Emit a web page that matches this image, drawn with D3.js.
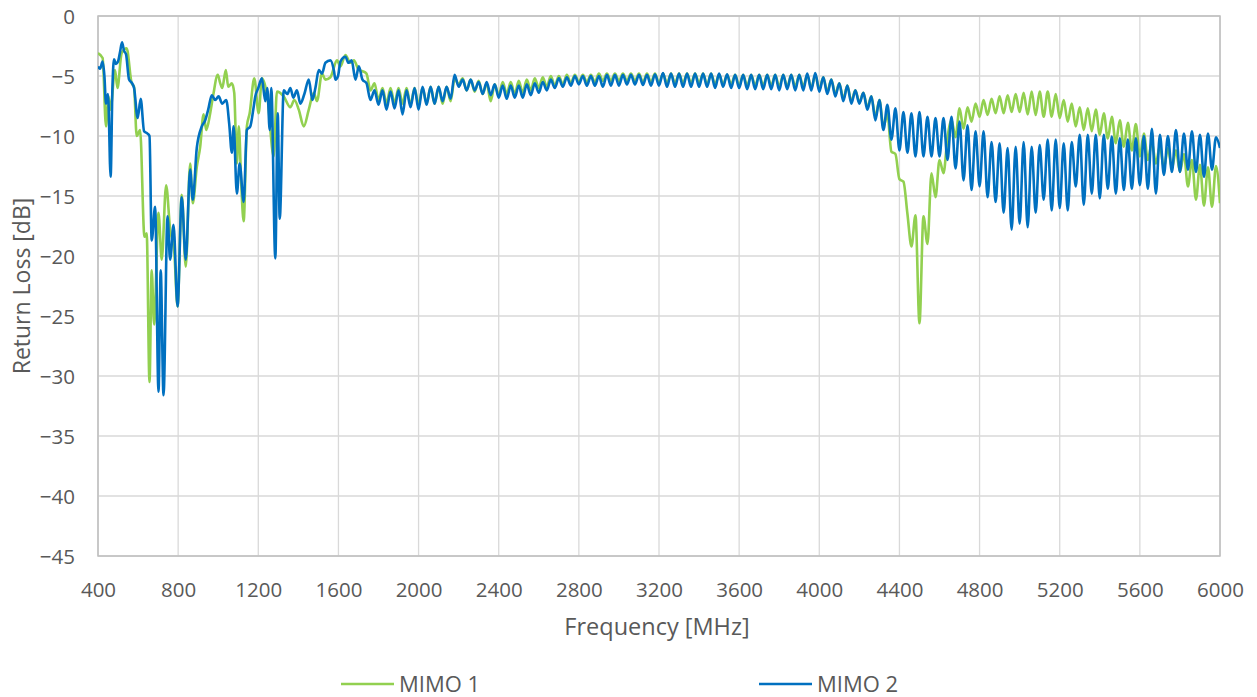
<!DOCTYPE html>
<html><head><meta charset="utf-8">
<script src="https://cdn.jsdelivr.net/npm/d3@7"></script>
<style>body{margin:0;background:#fff;} svg{display:block;font-family:"Open Sans",sans-serif;}</style>
</head><body><svg id="c" width="1257" height="697"></svg>
<script>
const xTicks = [400,800,1200,1600,2000,2400,2800,3200,3600,4000,4400,4800,5200,5600,6000];
const yTicks = [0,-5,-10,-15,-20,-25,-30,-35,-40,-45];
const seriesNames = ["MIMO 1","MIMO 2"];
const seriesColors = ["#92D050","#0070C0"];
const xTitle = "Frequency [MHz]";
const yTitle = "Return Loss [dB]";

// Low band (irregular) : [MHz, dB]
const mimo1Low = [[400,-3.1],[423,-3.5],[440,-9.2],[452,-6.7],[462,-7.8],[485,-4.5],[497,-6.0],[518,-3.1],[543,-2.7],[568,-5.6],[580,-5.9],[593,-10.0],[610,-9.5],[632,-18.4],[643,-18.1],[657,-30.5],[668,-21.2],[680,-25.7],[702,-16.4],[718,-20.3],[740,-14.1],[760,-17.8],[780,-19.5],[797,-24.2],[818,-14.9],[838,-20.9],[860,-12.3],[873,-15.6],[893,-12.6],[910,-10.9],[927,-8.2],[940,-9.5],[960,-8.1],[975,-6.6],[998,-4.9],[1010,-5.6],[1020,-6.0],[1038,-4.5],[1050,-5.9],[1068,-5.6],[1080,-6.4],[1093,-12.3],[1103,-9.2],[1115,-14.0],[1127,-17.1],[1143,-9.2],[1157,-8.1],[1180,-5.2],[1202,-8.1],[1218,-5.2],[1245,-6.7],[1277,-11.7],[1293,-6.3],[1327,-6.7],[1360,-7.6],[1380,-7.0],[1402,-7.8],[1427,-9.2],[1452,-7.8],[1477,-6.4],[1493,-7.1],[1518,-4.8],[1535,-5.3],[1560,-5.1],[1593,-3.7],[1610,-4.2],[1635,-3.25],[1660,-3.9],[1677,-3.7],[1702,-4.5]];
const mimo2Low = [[400,-4.2],[410,-4.4],[423,-3.8],[432,-5.0],[440,-7.3],[450,-6.5],[463,-13.4],[472,-6.0],[480,-3.6],[490,-4.0],[500,-3.8],[510,-3.0],[520,-2.2],[530,-2.9],[540,-3.2],[555,-5.3],[570,-5.6],[580,-6.0],[598,-8.5],[613,-6.9],[630,-9.6],[647,-9.8],[657,-10.0],[668,-18.7],[685,-15.9],[702,-31.3],[713,-21.2],[727,-31.6],[747,-16.7],[760,-20.3],[777,-17.4],[797,-24.2],[818,-15.1],[838,-20.3],[860,-12.8],[873,-15.3],[893,-11.0],[918,-9.2],[935,-8.7],[950,-7.8],[968,-6.6],[985,-7.0],[1002,-6.7],[1020,-7.3],[1040,-7.0],[1055,-9.0],[1068,-11.4],[1077,-9.2],[1093,-14.8],[1107,-12.3],[1127,-15.5],[1143,-9.5],[1160,-9.2],[1175,-7.8],[1185,-6.7],[1200,-6.0],[1218,-5.2],[1235,-7.1],[1245,-6.0],[1257,-9.5],[1265,-6.0],[1285,-20.2],[1297,-8.1],[1307,-16.9],[1327,-6.2],[1345,-6.5],[1360,-6.0],[1375,-6.8],[1393,-6.2],[1410,-7.3],[1430,-6.5],[1452,-5.3],[1470,-7.0],[1485,-6.0],[1502,-4.5],[1518,-4.8],[1535,-3.9],[1560,-3.7],[1578,-4.6],[1585,-5.3],[1598,-5.0],[1610,-3.8],[1635,-3.4],[1650,-3.9],[1666,-3.7],[1685,-5.3],[1702,-4.2]];

// Ripple band: samples every 20 MHz from 1720 to 6000 MHz
const rippleFreqs = d3.range(1720, 6001, 20);
const mimo1Ripple = [
-4.6,-4.8,-6.2,-5.6,-7.0,-6.0,-7.3,-6.0,-7.3,-6.0,
-7.3,-6.0,-7.4,-6.0,-7.4,-6.0,-7.3,-5.9,-7.3,-5.9,
-7.3,-5.9,-7.1,-5.2,-5.7,-5.2,-6.2,-5.3,-6.3,-5.4,
-6.5,-5.6,-7.1,-5.7,-6.6,-5.5,-6.5,-5.5,-6.5,-5.4,
-6.4,-5.3,-6.2,-5.2,-6.0,-5.1,-5.9,-5.0,-5.8,-5.0,
-5.7,-4.9,-5.6,-4.9,-5.5,-4.9,-5.5,-4.9,-5.5,-4.8,
-5.4,-4.8,-5.4,-4.8,-5.4,-4.8,-5.4,-4.8,-5.4,-4.8,
-5.5,-4.8,-5.5,-4.8,-5.6,-4.8,-5.6,-4.8,-5.6,-4.8,
-5.6,-4.8,-5.6,-4.8,-5.6,-4.8,-5.7,-4.8,-5.7,-4.85,
-5.7,-4.9,-5.7,-4.9,-5.8,-4.9,-5.8,-4.9,-5.8,-4.9,
-5.8,-4.9,-5.8,-4.9,-5.9,-4.9,-5.9,-4.9,-5.9,-4.9,
-5.9,-4.9,-6.0,-4.9,-6.1,-5.1,-6.3,-5.3,-6.5,-5.6,
-6.9,-5.8,-7.1,-6.2,-7.2,-6.4,-7.6,-6.7,-8.4,-7.0,
-9.2,-8.2,-11.3,-11.5,-13.6,-13.8,-16.5,-19.2,-16.6,-25.6,
-16.7,-19.0,-13.1,-15.1,-12.0,-13.1,-10.1,-8.7,-10.1,-7.7,
-9.4,-7.6,-8.8,-7.3,-8.4,-7.0,-8.25,-6.9,-8.1,-6.7,
-8.1,-6.6,-8.0,-6.5,-8.0,-6.4,-8.2,-6.3,-8.25,-6.3,
-8.4,-6.3,-8.4,-6.5,-8.5,-7.0,-8.8,-7.3,-9.2,-7.6,
-9.5,-7.7,-9.6,-7.8,-9.9,-8.1,-10.2,-8.4,-10.6,-8.7,
-10.9,-8.9,-11.2,-9.0,-11.7,-9.8,-12.0,-10.5,-12.3,-10.8,
-12.7,-11.0,-12.7,-11.2,-13.0,-11.5,-14.2,-12.0,-15.3,-12.4,
-15.8,-12.6,-15.9,-12.5,-15.6];
const mimo2Ripple = [
-5.3,-5.6,-7.0,-6.2,-7.4,-6.2,-7.8,-6.3,-7.7,-6.2,
-8.2,-6.2,-7.6,-6.0,-7.8,-5.9,-7.4,-5.9,-7.3,-5.9,
-7.1,-5.9,-6.9,-4.9,-5.9,-5.3,-6.2,-5.3,-6.2,-5.5,
-6.5,-5.5,-6.6,-5.7,-6.8,-5.8,-6.9,-5.8,-6.8,-5.8,
-6.8,-5.7,-6.6,-5.6,-6.4,-5.5,-6.2,-5.3,-6.0,-5.2,
-5.9,-5.1,-5.8,-5.0,-5.7,-5.0,-5.8,-5.0,-5.8,-5.0,
-5.9,-4.9,-5.8,-4.9,-5.8,-4.9,-5.7,-4.9,-5.7,-4.9,
-5.75,-4.9,-5.8,-4.85,-5.8,-4.75,-5.9,-4.8,-5.9,-4.8,
-5.9,-4.8,-5.9,-4.8,-5.9,-4.8,-5.9,-4.8,-6.0,-4.8,
-5.9,-4.85,-6.0,-4.9,-6.0,-4.9,-6.1,-4.9,-6.1,-4.9,
-6.1,-4.9,-6.1,-4.9,-6.2,-4.9,-6.1,-4.9,-6.2,-4.9,
-6.2,-4.8,-6.2,-4.75,-6.3,-5.1,-6.5,-5.3,-6.7,-5.6,
-7.1,-5.8,-7.3,-6.2,-7.3,-6.4,-7.8,-6.7,-8.7,-7.0,
-9.5,-7.4,-10.3,-7.7,-11.2,-8.0,-11.4,-8.1,-11.7,-8.0,
-11.7,-8.4,-11.7,-8.5,-11.7,-8.5,-12.0,-8.4,-12.7,-8.8,
-13.7,-9.1,-14.5,-9.6,-14.2,-9.6,-15.1,-10.5,-15.5,-10.6,
-16.4,-11.0,-17.8,-10.9,-17.3,-10.5,-17.6,-10.9,-16.4,-10.75,
-15.3,-10.3,-16.2,-10.3,-16.0,-10.6,-16.2,-10.5,-14.2,-9.9,
-15.75,-9.9,-14.8,-9.9,-15.2,-9.9,-14.4,-10.05,-14.8,-10.2,
-14.5,-10.3,-14.4,-10.2,-14.1,-10.0,-14.4,-9.4,-14.8,-9.9,
-13.25,-10.0,-13.0,-9.5,-13.0,-9.8,-12.8,-9.6,-13.0,-9.9,
-13.4,-9.8,-12.8,-10.1,-11.0];

const svg = d3.select("#c");
const pL = 98, pR = 1220, pT = 16, pB = 556;
const x = d3.scaleLinear().domain([400, 6000]).range([pL, pR]);
const y = d3.scaleLinear().domain([-45, 0]).range([pB, pT]);
const textCol = "#595959", gridCol = "#D9D9D9", borderCol = "#BFBFBF";

// grid
const g = svg.append("g");
g.selectAll("line.v").data(xTicks).join("line")
  .attr("x1", d => x(d)).attr("x2", d => x(d)).attr("y1", pT).attr("y2", pB)
  .attr("stroke", gridCol).attr("stroke-width", 1.3);
g.selectAll("line.h").data(yTicks).join("line")
  .attr("y1", d => y(d)).attr("y2", d => y(d)).attr("x1", pL).attr("x2", pR)
  .attr("stroke", gridCol).attr("stroke-width", 1.3);
g.append("rect").attr("x", pL).attr("y", pT).attr("width", pR - pL).attr("height", pB - pT)
  .attr("fill", "none").attr("stroke", borderCol).attr("stroke-width", 1.5);

// axes labels
const xAxis = d3.axisBottom(x).tickValues(xTicks).tickSize(0).tickPadding(0).tickFormat(d3.format("d"));
const xa = svg.append("g").attr("transform", `translate(0,597)`).call(xAxis);
xa.select(".domain").remove();
xa.selectAll("text").attr("fill", textCol).style("font-size", "20.5px")
  .style("font-family", '"Open Sans",sans-serif').attr("y", 0).attr("dy", 0);

const yAxis = d3.axisLeft(y).tickValues(yTicks).tickSize(0).tickPadding(0).tickFormat(d3.format("d"));
const ya = svg.append("g").attr("transform", `translate(${pL - 23},0)`).call(yAxis);
ya.select(".domain").remove();
ya.selectAll("text").attr("fill", textCol).style("font-size", "20.5px")
  .style("font-family", '"Open Sans",sans-serif').attr("dy", "0.36em");

svg.append("text").attr("x", 657).attr("y", 635).attr("text-anchor", "middle")
  .attr("fill", textCol).style("font-size", "23.5px").text(xTitle);
svg.append("text").attr("transform", `translate(30,${(pT + pB) / 2}) rotate(-90)`)
  .attr("text-anchor", "middle").attr("fill", textCol).style("font-size", "23px").text(yTitle);

// series
function build(low, ripple) {
  return low.map(d => ({f: d[0], v: d[1]})).concat(rippleFreqs.map((f, i) => ({f, v: ripple[i]})));
}
const series = [build(mimo1Low, mimo1Ripple), build(mimo2Low, mimo2Ripple)];
const line = d3.line().x(d => x(d.f)).y(d => y(d.v)).curve(d3.curveMonotoneX);
svg.append("defs").append("clipPath").attr("id", "clip").append("rect")
  .attr("x", pL).attr("y", pT - 5).attr("width", pR - pL).attr("height", pB - pT + 10);
const lg = svg.append("g").attr("clip-path", "url(#clip)");
series.forEach((s, i) => {
  lg.append("path").datum(s).attr("d", line).attr("fill", "none")
    .attr("stroke", seriesColors[i]).attr("stroke-width", 2.6).attr("stroke-linejoin", "round");
});

// legend
const legX = [341, 759];
seriesNames.forEach((n, i) => {
  svg.append("line").attr("x1", legX[i]).attr("x2", legX[i] + 53).attr("y1", 684).attr("y2", 684)
    .attr("stroke", seriesColors[i]).attr("stroke-width", 2.6);
  svg.append("text").attr("x", legX[i] + 58).attr("y", 684).attr("dy", "0.36em")
    .attr("fill", textCol).style("font-size", "22px").text(n);
});
</script></body></html>
